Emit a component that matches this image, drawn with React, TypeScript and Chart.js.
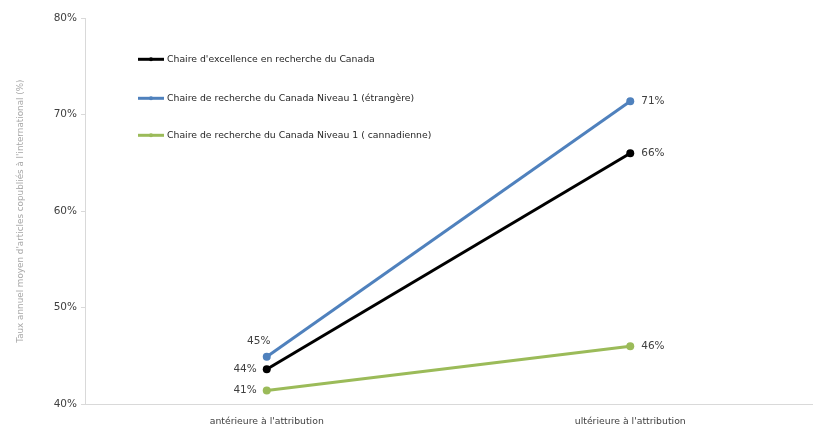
import { useEffect, useRef } from 'react'
import { Chart, ChartConfiguration, registerables } from 'chart.js'

Chart.register(...registerables)

// données
const periods = ["antérieure à l'attribution", "ultérieure à l'attribution"]
const seriesNames = [
  "Chaire d'excellence en recherche du Canada",
  'Chaire de recherche du Canada Niveau 1 (étrangère)',
  'Chaire de recherche du Canada Niveau 1 ( cannadienne)',
]
const excellence = [43.6, 66.0]
const niveau1Etrangere = [44.9, 71.4]
const niveau1Canadienne = [41.4, 46.0]
const labelsExcellence = ['44%', '66%']
const labelsEtrangere = ['45%', '71%']
const labelsCanadienne = ['41%', '46%']
const yTicks = [40, 50, 60, 70, 80]

const colors = ['#000000', '#4f81bd', '#9bbb59']
const FONT = '"DejaVu Sans", Verdana, sans-serif'

// étiquettes de valeur (gauche / dessus / droite)
const valueLabels = {
  id: 'valueLabels',
  afterDatasetsDraw(chart: Chart) {
    const ctx = chart.ctx
    const texts = [labelsExcellence, labelsEtrangere, labelsCanadienne]
    const place = [
      ['left', 'right'],
      ['top', 'right'],
      ['left', 'right'],
    ]
    ctx.save()
    ctx.font = `10.5px ${FONT}`
    ctx.fillStyle = '#404040'
    ctx.textBaseline = 'middle'
    chart.data.datasets.forEach((_, di) => {
      const meta = chart.getDatasetMeta(di)
      meta.data.forEach((pt: any, i: number) => {
        const p = place[di][i]
        const t = texts[di][i]
        if (p === 'left') {
          ctx.textAlign = 'right'
          ctx.fillText(t, pt.x - 10, pt.y)
        } else if (p === 'right') {
          ctx.textAlign = 'left'
          ctx.fillText(t, pt.x + 11, pt.y)
        } else {
          ctx.textAlign = 'center'
          ctx.fillText(t, pt.x - 8, pt.y - 15)
        }
      })
    })
    ctx.restore()
  },
}

// légende dans la zone du graphique
const insideLegend = {
  id: 'insideLegend',
  afterDraw(chart: Chart) {
    const ctx = chart.ctx
    const x0 = chart.chartArea.left + 53
    const rows = [41, 80, 117]
    ctx.save()
    ctx.font = `9.3px ${FONT}`
    ctx.textBaseline = 'middle'
    ctx.textAlign = 'left'
    seriesNames.forEach((name, i) => {
      const y = chart.chartArea.top + rows[i]
      ctx.strokeStyle = colors[i]
      ctx.lineWidth = 3
      ctx.beginPath()
      ctx.moveTo(x0, y)
      ctx.lineTo(x0 + 26, y)
      ctx.stroke()
      ctx.fillStyle = colors[i]
      ctx.beginPath()
      ctx.arc(x0 + 13, y, 2, 0, Math.PI * 2)
      ctx.fill()
      ctx.fillStyle = '#262626'
      ctx.fillText(name, x0 + 29, y)
    })
    ctx.restore()
  },
}

export default function App() {
  const canvasRef = useRef<HTMLCanvasElement>(null)
  const chartRef = useRef<Chart | null>(null)

  useEffect(() => {
    if (!canvasRef.current) return
    const ctx = canvasRef.current.getContext('2d')
    if (!ctx) return
    if (chartRef.current) chartRef.current.destroy()

    const values = [excellence, niveau1Etrangere, niveau1Canadienne]

    const config: ChartConfiguration = {
      type: 'line',
      data: {
        labels: periods,
        datasets: values.map((data, i) => ({
          label: seriesNames[i],
          data,
          borderColor: colors[i],
          backgroundColor: colors[i],
          borderWidth: 3,
          pointRadius: 4,
          pointBorderWidth: 0,
          tension: 0,
        })),
      },
      options: {
        responsive: true,
        maintainAspectRatio: false,
        animation: false,
        layout: { padding: { top: 8, right: 11, left: 0, bottom: 0 } },
        plugins: {
          legend: { display: false },
          tooltip: { enabled: false },
        },
        scales: {
          x: {
            offset: true,
            grid: { display: false },
            border: { color: '#d9d9d9', width: 1 },
            ticks: { color: '#404040', font: { family: FONT, size: 9.3 }, padding: 4 },
            afterFit: (s: any) => {
              s.height = 33
            },
          },
          y: {
            min: 40,
            max: 80,
            afterBuildTicks: (s: any) => {
              s.ticks = yTicks.map((v) => ({ value: v }))
            },
            grid: { drawOnChartArea: false, color: '#d9d9d9', tickLength: 4 },
            border: { color: '#d9d9d9', width: 1 },
            ticks: {
              color: '#404040',
              font: { family: FONT, size: 10.5 },
              padding: 4,
              callback: (v: any) => `${v}%`,
            },
            title: {
              display: true,
              text: "Taux annuel moyen d'articles copubliés à l'international (%)",
              color: '#a6a6a6',
              font: { family: FONT, size: 8.8 },
              padding: { top: 7, bottom: 0 },
            },
            afterFit: (s: any) => {
              s.width = 77
            },
          },
        },
      },
      plugins: [valueLabels, insideLegend],
    }

    chartRef.current = new Chart(ctx, config)
    return () => {
      chartRef.current?.destroy()
    }
  }, [])

  return (
    <div style={{ width: 815, height: 429 }}>
      <canvas ref={canvasRef} />
    </div>
  )
}
